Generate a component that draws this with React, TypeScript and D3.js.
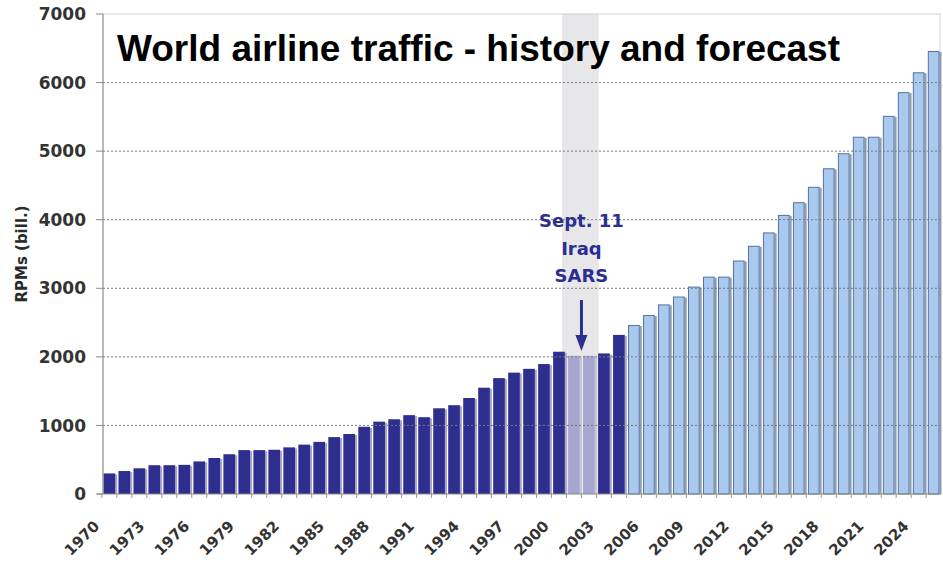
import React from "react";
import * as d3 from "d3";

// World airline traffic, revenue passenger miles (billions)
const years: number[] = d3.range(1970, 2026);
const rpms: number[] = [
  300, 335, 375, 420, 420, 425, 475, 525, 580, 640,
  640, 645, 680, 720, 760, 830, 875, 980, 1055, 1090,
  1150, 1120, 1250, 1295, 1400, 1550, 1690, 1770, 1825, 1895,
  2075, 2015, 2015, 2050, 2320, 2465, 2610, 2765, 2880, 3025,
  3170, 3170, 3405, 3620, 3815, 4070, 4255, 4480, 4750, 4970,
  5210, 5210, 5515, 5860, 6150, 6460,
];
const crisisYears: number[] = [2001, 2002];
const firstForecastYear = 2005;
const yTicks: number[] = [0, 1000, 2000, 3000, 4000, 5000, 6000, 7000];
const labelYears: number[] = d3.range(1970, 2026, 3);
const annotationLines: string[] = ["Sept. 11", "Iraq", "SARS"];
const title = "World airline traffic - history and forecast";
const yTitle = "RPMs (bill.)";

const W = 943;
const H = 562;
const left = 102;
const right = 941;
const top = 14;
const bottom = 494;

const DARK = "#2E2E8E";
const CRISIS = "#A6A6CF";
const FORECAST = "#A9C9EF";
const FORECAST_EDGE = "#56739C";
const NAVY = "#2B2F8F";
const BAND = "#E7E7EA";
const TICK_FONT = "'DejaVu Sans', Verdana, sans-serif";

export default function App() {
  const x = d3
    .scaleBand<number>()
    .domain(years)
    .range([left, right])
    .paddingInner(0.22)
    .paddingOuter(0.1);
  const y = d3.scaleLinear().domain([0, 7000]).range([bottom, top]);
  const bw = x.bandwidth();
  const step = x.step();

  const kind = (yr: number) =>
    crisisYears.includes(yr) ? "crisis" : yr >= firstForecastYear ? "forecast" : "history";

  const bandX0 = (x(crisisYears[0]) as number) - 6;
  const bandX1 = (x(crisisYears[crisisYears.length - 1]) as number) + bw + 4;
  const annX = ((x(crisisYears[0]) as number) + (x(crisisYears[1]) as number) + bw) / 2;

  return (
    <div style={{ position: "absolute", left: 0, top: 0 }}>
      <svg width={W} height={H} style={{ display: "block", background: "#fff" }}>
        {/* highlighted crisis period */}
        <rect x={bandX0} y={top} width={bandX1 - bandX0} height={bottom - top} fill={BAND} />

        {/* frame */}
        <line x1={left} x2={right - 1} y1={top} y2={top} stroke="#cfcfcf" />
        <line x1={right - 1} x2={right - 1} y1={top} y2={bottom} stroke="#d8d8d8" />

        {/* bars */}
        {years.map((yr, i) => {
          const k = kind(yr);
          const bx = x(yr) as number;
          const by = y(rpms[i]);
          const h = bottom - by;
          if (k === "forecast") {
            return (
              <g key={yr}>
                <rect x={bx + bw} y={by + 1} width={2} height={h - 1} fill="#8E9DB0" />
                <rect x={bx + 0.5} y={by + 0.5} width={bw - 1} height={h - 0.5} fill={FORECAST} stroke={FORECAST_EDGE} strokeWidth={1} />
              </g>
            );
          }
          return (
            <g key={yr}>
              <rect x={bx + bw} y={by + 1} width={2} height={h - 1} fill={k === "crisis" ? "#C4C4D8" : "#A3A3CC"} />
              <rect x={bx} y={by} width={bw} height={h} fill={k === "crisis" ? CRISIS : DARK} />
            </g>
          );
        })}

        {/* gridlines */}
        {yTicks.slice(1, -1).map((t) => (
          <line key={t} x1={left + 1} x2={right - 1} y1={y(t)} y2={y(t)} stroke="#7a7a7a" strokeWidth={1} strokeDasharray="2,2" />
        ))}

        {/* axes */}
        <line x1={103} x2={103} y1={top} y2={bottom} stroke="#8a8a8a" strokeWidth={1.2} />
        <line x1={97} x2={right} y1={bottom} y2={bottom} stroke="#8a8a8a" strokeWidth={1.2} />
        {yTicks.map((t) => (
          <g key={t}>
            <line x1={96} x2={103} y1={y(t)} y2={y(t)} stroke="#8a8a8a" />
            <text x={86} y={y(t)} dy="0.36em" textAnchor="end" fontFamily={TICK_FONT} fontWeight="bold" fontSize={17} fill="#333">
              {t}
            </text>
          </g>
        ))}
        {years.map((yr) => {
          const tx = (x(yr) as number) - (step - bw) / 2;
          return <line key={yr} x1={tx} x2={tx} y1={bottom} y2={bottom + 4} stroke="#9a9a9a" />;
        })}
        {labelYears.map((yr) => {
          const px = (x(yr) as number) + bw / 2 - 9;
          const py = 527;
          return (
            <text key={yr} x={px} y={py} transform={`rotate(-45 ${px} ${py})`} textAnchor="end" fontFamily={TICK_FONT} fontWeight="bold" fontSize={15} fill="#333">
              {yr}
            </text>
          );
        })}

        {/* y axis title */}
        <text transform="translate(27 254) rotate(-90)" textAnchor="middle" fontFamily={TICK_FONT} fontWeight="bold" fontSize={15} fill="#2a2a2a">
          {yTitle}
        </text>

        {/* chart title */}
        <text x={117} y={61} fontFamily="'Liberation Sans', Arial, sans-serif" fontWeight="bold" fontSize={37} fill="#000">
          {title}
        </text>

        {/* crisis annotation */}
        {annotationLines.map((s, i) => (
          <text key={s} x={annX} y={227 + i * 27.5} textAnchor="middle" fontFamily={TICK_FONT} fontWeight="bold" fontSize={18} fill={NAVY}>
            {s}
          </text>
        ))}
        <line x1={annX} x2={annX} y1={300} y2={338} stroke={NAVY} strokeWidth={3} />
        <path d={`M${annX - 6},335 L${annX + 6},335 L${annX},351 Z`} fill={NAVY} />
      </svg>
    </div>
  );
}
